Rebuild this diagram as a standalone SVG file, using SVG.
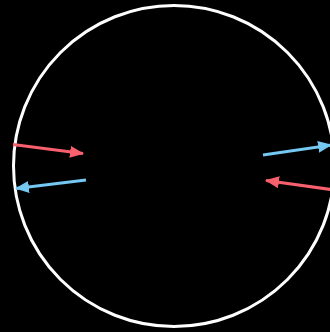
<svg xmlns="http://www.w3.org/2000/svg" width="330" height="332" viewBox="0 0 330 332">
<style>
.red{stroke:#f8606e;stroke-width:3;fill:none}
.blue{stroke:#74c8f2;stroke-width:3;fill:none}
</style>
<defs>
<marker id="ar" markerUnits="userSpaceOnUse" markerWidth="14" markerHeight="12" refX="13" refY="6" orient="auto"><path d="M0,0 L14,6 L0,12 Z" fill="#f8606e"/></marker>
<marker id="ab" markerUnits="userSpaceOnUse" markerWidth="14" markerHeight="12" refX="13" refY="6" orient="auto"><path d="M0,0 L14,6 L0,12 Z" fill="#74c8f2"/></marker>
</defs>
<rect width="330" height="332" fill="#000"/>
<g id="boundary"><circle cx="174" cy="166" r="160.5" fill="none" stroke="#fff" stroke-width="3"/></g>
<g id="connectors">
<line class="red" x1="13" y1="144.5" x2="83" y2="153.5" marker-end="url(#ar)"/>
<line class="blue" x1="86" y1="180" x2="16" y2="188.5" marker-end="url(#ab)"/>
<line class="blue" x1="263" y1="155" x2="331" y2="145" marker-end="url(#ab)"/>
<line class="red" x1="331" y1="189.5" x2="266" y2="180.5" marker-end="url(#ar)"/>
</g>
</svg>
